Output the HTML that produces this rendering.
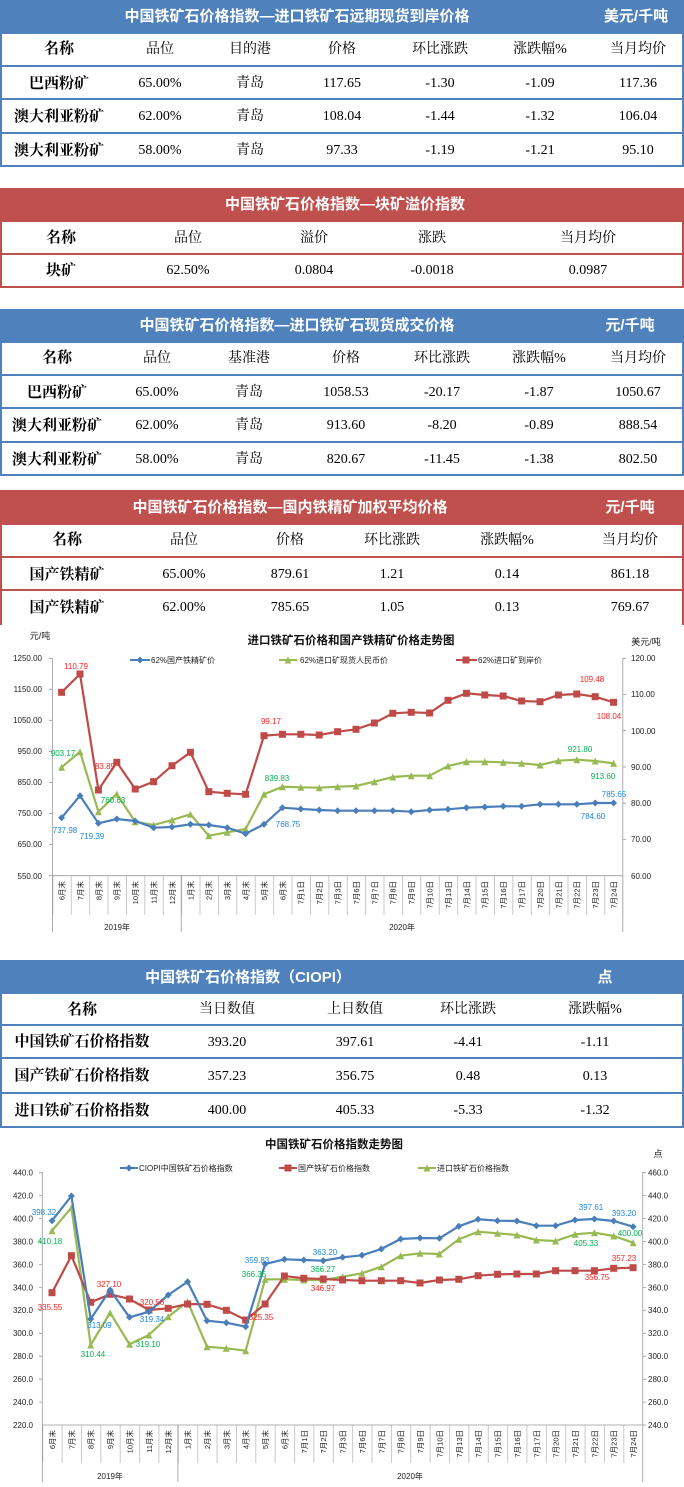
<!DOCTYPE html>
<html><head><meta charset="utf-8">
<style>
body{margin:0;width:684px;height:1487px;position:relative;background:#fff;overflow:hidden;font-family:"Liberation Serif","Noto Serif CJK SC",serif;}
.t{position:absolute;left:0;width:680px;}
.b{border:2px solid #4f81bd;}
.r{border:2px solid #c0504d;}
.h{position:absolute;left:0;right:0;color:#fff;font-family:"Liberation Sans","Noto Sans CJK SC",sans-serif;font-weight:bold;font-size:15px;}
.b .h{background:#4f81bd;}
.r .h{background:#c0504d;}
.row{position:absolute;left:0;right:0;font-size:14px;color:#000;}
.b .row{border-top:2px solid #4f81bd;}
.r .row{border-top:2px solid #c0504d;}
i{position:absolute;width:160px;margin-left:-80px;text-align:center;font-style:normal;top:0;}
i.n{font-weight:bold;font-size:15px;}
svg{position:absolute;left:0;}
</style></head><body>

<!-- Table 1 -->
<div class="t b" style="top:0;height:165px;border-top:none;">
 <div class="h" style="top:0;height:34px;line-height:34px;"><i style="left:295px;width:400px;margin-left:-200px">中国铁矿石价格指数—进口铁矿石远期现货到岸价格</i><i style="left:634px">美元/千吨</i></div>
 <div class="row" style="top:34px;height:31px;line-height:31px;border-top:none"><i class="n" style="left:57px">名称</i><i style="left:158px">品位</i><i style="left:248px">目的港</i><i style="left:340px">价格</i><i style="left:438px">环比涨跌</i><i style="left:538px">涨跌幅%</i><i style="left:636px">当月均价</i></div>
 <div class="row" style="top:65px;height:31px;line-height:34px;"><i class="n" style="left:57px">巴西粉矿</i><i style="left:158px">65.00%</i><i style="left:248px">青岛</i><i style="left:340px">117.65</i><i style="left:438px">-1.30</i><i style="left:538px">-1.09</i><i style="left:636px">117.36</i></div>
 <div class="row" style="top:98px;height:31px;line-height:34px;"><i class="n" style="left:57px">澳大利亚粉矿</i><i style="left:158px">62.00%</i><i style="left:248px">青岛</i><i style="left:340px">108.04</i><i style="left:438px">-1.44</i><i style="left:538px">-1.32</i><i style="left:636px">106.04</i></div>
 <div class="row" style="top:132px;height:31px;line-height:34px;"><i class="n" style="left:57px">澳大利亚粉矿</i><i style="left:158px">58.00%</i><i style="left:248px">青岛</i><i style="left:340px">97.33</i><i style="left:438px">-1.19</i><i style="left:538px">-1.21</i><i style="left:636px">95.10</i></div>
</div>

<!-- Table 2 -->
<div class="t r" style="top:188px;height:98px;border-top:none;">
 <div class="h" style="top:0;height:34px;line-height:34px;"><i style="left:343px;width:400px;margin-left:-200px">中国铁矿石价格指数—块矿溢价指数</i></div>
 <div class="row" style="top:34px;height:31px;line-height:33px;border-top:none"><i class="n" style="left:59px">名称</i><i style="left:186px">品位</i><i style="left:312px">溢价</i><i style="left:430px">涨跌</i><i style="left:586px">当月均价</i></div>
 <div class="row" style="top:65px;height:31px;line-height:32px;"><i class="n" style="left:59px">块矿</i><i style="left:186px">62.50%</i><i style="left:312px">0.0804</i><i style="left:430px">-0.0018</i><i style="left:586px">0.0987</i></div>
</div>

<!-- Table 3 -->
<div class="t b" style="top:309px;height:165px;border-top:none;">
 <div class="h" style="top:0;height:34px;line-height:34px;"><i style="left:295px;width:400px;margin-left:-200px">中国铁矿石价格指数—进口铁矿石现货成交价格</i><i style="left:628px">元/千吨</i></div>
 <div class="row" style="top:34px;height:31px;line-height:31px;border-top:none"><i class="n" style="left:55px">名称</i><i style="left:155px">品位</i><i style="left:247px">基准港</i><i style="left:344px">价格</i><i style="left:440px">环比涨跌</i><i style="left:537px">涨跌幅%</i><i style="left:636px">当月均价</i></div>
 <div class="row" style="top:65px;height:31px;line-height:34px;"><i class="n" style="left:55px">巴西粉矿</i><i style="left:155px">65.00%</i><i style="left:247px">青岛</i><i style="left:344px">1058.53</i><i style="left:440px">-20.17</i><i style="left:537px">-1.87</i><i style="left:636px">1050.67</i></div>
 <div class="row" style="top:98px;height:31px;line-height:34px;"><i class="n" style="left:55px">澳大利亚粉矿</i><i style="left:155px">62.00%</i><i style="left:247px">青岛</i><i style="left:344px">913.60</i><i style="left:440px">-8.20</i><i style="left:537px">-0.89</i><i style="left:636px">888.54</i></div>
 <div class="row" style="top:132px;height:31px;line-height:34px;"><i class="n" style="left:55px">澳大利亚粉矿</i><i style="left:155px">58.00%</i><i style="left:247px">青岛</i><i style="left:344px">820.67</i><i style="left:440px">-11.45</i><i style="left:537px">-1.38</i><i style="left:636px">802.50</i></div>
</div>

<!-- Table 4 -->
<div class="t r" style="top:490px;height:140px;border-top:none;">
 <div class="h" style="top:0;height:35px;line-height:35px;"><i style="left:288px;width:400px;margin-left:-200px">中国铁矿石价格指数—国内铁精矿加权平均价格</i><i style="left:628px">元/千吨</i></div>
 <div class="row" style="top:35px;height:31px;line-height:31px;border-top:none"><i class="n" style="left:65px">名称</i><i style="left:182px">品位</i><i style="left:288px">价格</i><i style="left:390px">环比涨跌</i><i style="left:505px">涨跌幅%</i><i style="left:628px">当月均价</i></div>
 <div class="row" style="top:66px;height:31px;line-height:34px;"><i class="n" style="left:65px">国产铁精矿</i><i style="left:182px">65.00%</i><i style="left:288px">879.61</i><i style="left:390px">1.21</i><i style="left:505px">0.14</i><i style="left:628px">861.18</i></div>
 <div class="row" style="top:99px;height:40px;line-height:34px;"><i class="n" style="left:65px">国产铁精矿</i><i style="left:182px">62.00%</i><i style="left:288px">785.65</i><i style="left:390px">1.05</i><i style="left:505px">0.13</i><i style="left:628px">769.67</i></div>
</div>

<!-- Chart 1 -->
<svg width="684" height="330" viewBox="0 625 684 330" style="top:625px;background:#fff;font-family:'Liberation Sans','Noto Sans CJK SC',sans-serif;">
<defs>
 <pattern id="p1" x="52.4" y="0" width="18.4" height="10" patternUnits="userSpaceOnUse"><rect x="0" y="0" width="0.8" height="10" fill="#bbb"/></pattern>
 <pattern id="p2" x="42.3" y="0" width="19.37" height="10" patternUnits="userSpaceOnUse"><rect x="0" y="0" width="0.8" height="10" fill="#bbb"/></pattern>
 <marker id="mb" markerWidth="8" markerHeight="8" refX="4" refY="4" markerUnits="userSpaceOnUse"><path d="M4 0.5L7.5 4L4 7.5L0.5 4Z" fill="#4a7ebb"/></marker>
 <marker id="mr" markerWidth="8" markerHeight="8" refX="4" refY="4" markerUnits="userSpaceOnUse"><rect x="0.5" y="0.5" width="7" height="7" fill="#be4b48"/></marker>
 <marker id="mg" markerWidth="8" markerHeight="8" refX="4" refY="4" markerUnits="userSpaceOnUse"><path d="M4 0.5L7.5 7.5L0.5 7.5Z" fill="#98b954"/></marker>
</defs>
<rect x="52.4" y="875.7" width="570.8" height="39.3" fill="url(#p1)"/>
<g stroke="#999" stroke-width="0.8" fill="none">
 <path d="M52.4 658V932M622.8 658V932M181.2 875V932M52.4 875.7H622.8"/>
 <path d="M49 658.3H52.4M49 689.3H52.4M49 720.3H52.4M49 751.4H52.4M49 782.4H52.4M49 813.5H52.4M49 844.6H52.4M49 875.7H52.4"/>
 <path d="M622.8 658.3H626M622.8 694.5H626M622.8 730.7H626M622.8 767H626M622.8 803.2H626M622.8 839.4H626"/>
</g>
<g font-size="8" fill="#222" text-anchor="end">
 <text x="42" y="661">1250.00</text><text x="42" y="692">1150.00</text><text x="42" y="723">1050.00</text><text x="42" y="754">950.00</text><text x="42" y="785">850.00</text><text x="42" y="816">750.00</text><text x="42" y="847">650.00</text><text x="42" y="879">550.00</text>
</g>
<g font-size="8" fill="#222">
 <text x="631" y="661">120.00</text><text x="631" y="697">110.00</text><text x="631" y="734">100.00</text><text x="631" y="770">90.00</text><text x="631" y="806">80.00</text><text x="631" y="842">70.00</text><text x="631" y="879">60.00</text>
</g>
<text x="351" y="644" font-size="11.5" font-weight="bold" text-anchor="middle" fill="#111">进口铁矿石价格和国产铁精矿价格走势图</text>
<text x="40" y="639" font-size="9" text-anchor="middle" fill="#222">元/吨</text>
<text x="646" y="645" font-size="9" text-anchor="middle" fill="#222">美元/吨</text>
<g font-size="8" fill="#222">
 <path d="M130 660H150" stroke="#4a7ebb" stroke-width="2" marker-mid="url(#mb)"/><path d="M130 660H140H150" stroke="#4a7ebb" stroke-width="2" marker-mid="url(#mb)"/><text x="151" y="663">62%国产铁精矿价</text>
 <path d="M279 660H288H297" stroke="#98b954" stroke-width="2" marker-mid="url(#mg)"/><text x="300" y="663">62%进口矿现货人民币价</text>
 <path d="M456 660H466H477" stroke="#be4b48" stroke-width="2" marker-mid="url(#mr)"/><text x="478" y="663">62%进口矿到岸价</text>
</g>
<g fill="none" stroke-width="2.2">
<polyline stroke="#be4b48" marker-start="url(#mr)" marker-mid="url(#mr)" marker-end="url(#mr)" points="61.6,692.3 80,674 98.4,790 116.8,762.3 135.2,789 153.6,781.7 172,765.7 190.4,752.3 208.8,791.7 227.2,793.3 245.6,794.3 264,735.7 282.4,734.3 300.8,734.3 319.2,735 337.6,731.7 356,729.3 374.4,723 392.8,713.3 411.2,712.3 429.6,713 448,700.3 466.4,693.3 484.8,695 503.2,696 521.6,701 540,701.7 558.4,695 576.8,694 595.2,696.7 613.6,702.3"/>
<polyline stroke="#98b954" marker-start="url(#mg)" marker-mid="url(#mg)" marker-end="url(#mg)" points="61.6,767.3 80,751.7 98.4,811.7 116.8,794 135.2,821.7 153.6,825 172,820 190.4,814.3 208.8,835.7 227.2,832.3 245.6,829 264,794.3 282.4,786.7 300.8,787.3 319.2,787.7 337.6,786.7 356,786 374.4,781.7 392.8,777 411.2,775.7 429.6,775.7 448,766 466.4,761.7 484.8,761.7 503.2,762.3 521.6,763.3 540,765 558.4,760.7 576.8,759.7 595.2,761 613.6,763.3"/>
<polyline stroke="#4a7ebb" marker-start="url(#mb)" marker-mid="url(#mb)" marker-end="url(#mb)" points="61.6,817.7 80,795.7 98.4,823.3 116.8,819 135.2,821 153.6,827.7 172,827 190.4,824.3 208.8,825 227.2,827.7 245.6,833.7 264,824.3 282.4,807.7 300.8,809 319.2,810 337.6,810.7 356,810.7 374.4,810.7 392.8,810.7 411.2,811.7 429.6,810 448,809.3 466.4,807.7 484.8,807 503.2,806.3 521.6,806.3 540,804.3 558.4,804.3 576.8,804.3 595.2,803 613.6,803"/>
</g>
<g font-size="8" text-anchor="middle">
 <g fill="#ff2020"><text x="76" y="669">110.79</text><text x="105" y="769">83.89</text><text x="271" y="724">99.17</text><text x="592" y="682">109.48</text><text x="609" y="719">108.04</text></g>
 <g fill="#00b050"><text x="63" y="756">903.17</text><text x="113" y="803">760.63</text><text x="277" y="781">839.83</text><text x="580" y="752">921.80</text><text x="603" y="779">913.60</text></g>
 <g fill="#1f86e0"><text x="65" y="833">737.98</text><text x="92" y="839">719.39</text><text x="288" y="827">768.75</text><text x="593" y="819">784.60</text><text x="614" y="797">785.65</text></g>
</g>
<g font-size="7.5" fill="#222" text-anchor="end">
<text transform="translate(64.5,881) rotate(-90)">6月末</text><text transform="translate(82.9,881) rotate(-90)">7月末</text><text transform="translate(101.3,881) rotate(-90)">8月末</text><text transform="translate(119.7,881) rotate(-90)">9月末</text><text transform="translate(138.1,881) rotate(-90)">10月末</text><text transform="translate(156.5,881) rotate(-90)">11月末</text><text transform="translate(174.9,881) rotate(-90)">12月末</text><text transform="translate(193.3,881) rotate(-90)">1月末</text><text transform="translate(211.7,881) rotate(-90)">2月末</text><text transform="translate(230.1,881) rotate(-90)">3月末</text><text transform="translate(248.5,881) rotate(-90)">4月末</text><text transform="translate(266.9,881) rotate(-90)">5月末</text><text transform="translate(285.3,881) rotate(-90)">6月末</text><text transform="translate(303.7,881) rotate(-90)">7月1日</text><text transform="translate(322.1,881) rotate(-90)">7月2日</text><text transform="translate(340.5,881) rotate(-90)">7月3日</text><text transform="translate(358.9,881) rotate(-90)">7月6日</text><text transform="translate(377.3,881) rotate(-90)">7月7日</text><text transform="translate(395.7,881) rotate(-90)">7月8日</text><text transform="translate(414.1,881) rotate(-90)">7月9日</text><text transform="translate(432.5,881) rotate(-90)">7月10日</text><text transform="translate(450.9,881) rotate(-90)">7月13日</text><text transform="translate(469.3,881) rotate(-90)">7月14日</text><text transform="translate(487.7,881) rotate(-90)">7月15日</text><text transform="translate(506.1,881) rotate(-90)">7月16日</text><text transform="translate(524.5,881) rotate(-90)">7月17日</text><text transform="translate(542.9,881) rotate(-90)">7月20日</text><text transform="translate(561.3,881) rotate(-90)">7月21日</text><text transform="translate(579.7,881) rotate(-90)">7月22日</text><text transform="translate(598.1,881) rotate(-90)">7月23日</text><text transform="translate(616.5,881) rotate(-90)">7月24日</text>
</g>
<text x="117" y="930" font-size="8" text-anchor="middle" fill="#222">2019年</text>
<text x="402" y="930" font-size="8" text-anchor="middle" fill="#222">2020年</text>
</svg>

<!-- CIOPI table -->
<div class="t b" style="top:960px;height:166px;border-top:none;">
 <div class="h" style="top:0;height:34px;line-height:36px;"><i style="left:246px;width:300px;margin-left:-150px">中国铁矿石价格指数（CIOPI）</i><i style="left:603px">点</i></div>
 <div class="row" style="top:34px;height:30px;line-height:32px;border-top:none"><i class="n" style="left:80px">名称</i><i style="left:225px">当日数值</i><i style="left:353px">上日数值</i><i style="left:466px">环比涨跌</i><i style="left:593px">涨跌幅%</i></div>
 <div class="row" style="top:64px;height:31px;line-height:33px;"><i class="n" style="left:80px">中国铁矿石价格指数</i><i style="left:225px">393.20</i><i style="left:353px">397.61</i><i style="left:466px">-4.41</i><i style="left:593px">-1.11</i></div>
 <div class="row" style="top:97px;height:33px;line-height:35px;"><i class="n" style="left:80px">国产铁矿石价格指数</i><i style="left:225px">357.23</i><i style="left:353px">356.75</i><i style="left:466px">0.48</i><i style="left:593px">0.13</i></div>
 <div class="row" style="top:132px;height:32px;line-height:34px;"><i class="n" style="left:80px">进口铁矿石价格指数</i><i style="left:225px">400.00</i><i style="left:353px">405.33</i><i style="left:466px">-5.33</i><i style="left:593px">-1.32</i></div>
</div>

<!-- Chart 2 -->
<svg width="684" height="357" viewBox="0 1130 684 357" style="top:1130px;background:#fff;font-family:'Liberation Sans','Noto Sans CJK SC',sans-serif;">
<defs>
 <pattern id="q2" x="42.3" y="0" width="19.37" height="10" patternUnits="userSpaceOnUse"><rect x="0" y="0" width="0.8" height="10" fill="#bbb"/></pattern>
 <marker id="nb" markerWidth="8" markerHeight="8" refX="4" refY="4" markerUnits="userSpaceOnUse"><path d="M4 0.5L7.5 4L4 7.5L0.5 4Z" fill="#4a7ebb"/></marker>
 <marker id="nr" markerWidth="8" markerHeight="8" refX="4" refY="4" markerUnits="userSpaceOnUse"><rect x="0.5" y="0.5" width="7" height="7" fill="#be4b48"/></marker>
 <marker id="ng" markerWidth="8" markerHeight="8" refX="4" refY="4" markerUnits="userSpaceOnUse"><path d="M4 0.5L7.5 7.5L0.5 7.5Z" fill="#98b954"/></marker>
</defs>
<rect x="42.3" y="1425" width="600.4" height="38" fill="url(#q2)"/>
<g stroke="#999" stroke-width="0.8" fill="none">
 <path d="M42.3 1172V1482M642.7 1172V1482M177.9 1425V1482M42.3 1425H642.7"/>
 <path d="M39 1172.7H42.3M39 1195.6H42.3M39 1218.6H42.3M39 1241.5H42.3M39 1264.5H42.3M39 1287.4H42.3M39 1310.3H42.3M39 1333.3H42.3M39 1356.2H42.3M39 1379.2H42.3M39 1402.1H42.3"/>
 <path d="M642.7 1172.7H646M642.7 1195.6H646M642.7 1218.6H646M642.7 1241.5H646M642.7 1264.5H646M642.7 1287.4H646M642.7 1310.3H646M642.7 1333.3H646M642.7 1356.2H646M642.7 1379.2H646M642.7 1402.1H646M642.7 1425H646"/>
</g>
<g font-size="8" fill="#222" text-anchor="end">
 <text x="33" y="1175.5">440.0</text><text x="33" y="1198.5">420.0</text><text x="33" y="1221.5">400.0</text><text x="33" y="1244.5">380.0</text><text x="33" y="1267.5">360.0</text><text x="33" y="1290.5">340.0</text><text x="33" y="1313">320.0</text><text x="33" y="1336">300.0</text><text x="33" y="1359">280.0</text><text x="33" y="1382">260.0</text><text x="33" y="1405">240.0</text><text x="33" y="1428">220.0</text>
</g>
<g font-size="8" fill="#222">
 <text x="648" y="1175.5">460.0</text><text x="648" y="1198.5">440.0</text><text x="648" y="1221.5">420.0</text><text x="648" y="1244.5">400.0</text><text x="648" y="1267.5">380.0</text><text x="648" y="1290.5">360.0</text><text x="648" y="1313">340.0</text><text x="648" y="1336">320.0</text><text x="648" y="1359">300.0</text><text x="648" y="1382">280.0</text><text x="648" y="1405">260.0</text><text x="648" y="1428">240.0</text>
</g>
<text x="334" y="1148" font-size="11.5" font-weight="bold" text-anchor="middle" fill="#111">中国铁矿石价格指数走势图</text>
<text x="658" y="1157" font-size="9" text-anchor="middle" fill="#222">点</text>
<g font-size="8" fill="#222">
 <path d="M120 1168H129H138" stroke="#4a7ebb" stroke-width="2" marker-mid="url(#nb)"/><text x="139" y="1171">CIOPI中国铁矿石价格指数</text>
 <path d="M279 1168H288H297" stroke="#be4b48" stroke-width="2" marker-mid="url(#nr)"/><text x="298" y="1171">国产铁矿石价格指数</text>
 <path d="M418 1168H427H436" stroke="#98b954" stroke-width="2" marker-mid="url(#ng)"/><text x="437" y="1171">进口铁矿石价格指数</text>
</g>
<g fill="none" stroke-width="2.2">
<polyline stroke="#98b954" marker-start="url(#ng)" marker-mid="url(#ng)" marker-end="url(#ng)" points="52,1230.7 71.4,1207.7 90.7,1345 110.1,1312.7 129.5,1344.3 148.9,1335 168.2,1316.7 187.6,1301.7 207,1346.7 226.3,1348.3 245.7,1350.7 265.1,1279.3 284.4,1279.3 303.8,1280 323.2,1280 342.6,1276.7 361.9,1273.3 381.3,1266.7 400.7,1255.7 420,1253.3 439.4,1254 458.8,1239.3 478.1,1231.7 497.5,1233.3 516.9,1235 536.3,1240 555.6,1241 575,1234.3 594.4,1232.7 613.7,1236 633.1,1242.7"/>
<polyline stroke="#be4b48" marker-start="url(#nr)" marker-mid="url(#nr)" marker-end="url(#nr)" points="52,1292.7 71.4,1255.7 90.7,1302.3 110.1,1294.3 129.5,1299 148.9,1310 168.2,1308.3 187.6,1304 207,1304.3 226.3,1310.3 245.7,1320 265.1,1304 284.4,1276 303.8,1278.3 323.2,1279 342.6,1280 361.9,1280.7 381.3,1280.7 400.7,1280.7 420,1283 439.4,1280 458.8,1279.3 478.1,1275.7 497.5,1274.3 516.9,1274 536.3,1274 555.6,1270.7 575,1270.7 594.4,1270.7 613.7,1268.3 633.1,1267.7"/>
<polyline stroke="#4a7ebb" marker-start="url(#nb)" marker-mid="url(#nb)" marker-end="url(#nb)" points="52,1220.7 71.4,1196 90.7,1319 110.1,1290 129.5,1317.3 148.9,1311.7 168.2,1295 187.6,1281.7 207,1320.7 226.3,1322.7 245.7,1326.7 265.1,1264 284.4,1259.3 303.8,1260 323.2,1260.7 342.6,1257.3 361.9,1255.3 381.3,1249 400.7,1239 420,1238 439.4,1238.3 458.8,1226.3 478.1,1219.3 497.5,1220.7 516.9,1221 536.3,1225.7 555.6,1225.7 575,1220 594.4,1219 613.7,1221 633.1,1226.7"/>
</g>
<g font-size="8" text-anchor="middle">
 <g fill="#1f86e0"><text x="44" y="1215">398.32</text><text x="99.5" y="1328">313.09</text><text x="152" y="1322">319.34</text><text x="257" y="1263">359.83</text><text x="325" y="1255">363.20</text><text x="591" y="1210">397.61</text><text x="624" y="1216">393.20</text></g>
 <g fill="#ff2020"><text x="109" y="1287">327.10</text><text x="152" y="1305">320.56</text><text x="50" y="1310">335.55</text><text x="261" y="1320">325.35</text><text x="323" y="1291">346.97</text><text x="597" y="1280">356.75</text><text x="624" y="1261">357.23</text></g>
 <g fill="#00b050"><text x="50" y="1244">410.18</text><text x="93" y="1357">310.44</text><text x="148" y="1347">319.10</text><text x="254" y="1277">366.35</text><text x="323" y="1272">366.27</text><text x="586" y="1246">405.33</text><text x="630" y="1236">400.00</text></g>
</g>
<g font-size="7.5" fill="#222" text-anchor="end">
<text transform="translate(55,1430) rotate(-90)">6月末</text><text transform="translate(74.4,1430) rotate(-90)">7月末</text><text transform="translate(93.7,1430) rotate(-90)">8月末</text><text transform="translate(113.1,1430) rotate(-90)">9月末</text><text transform="translate(132.5,1430) rotate(-90)">10月末</text><text transform="translate(151.9,1430) rotate(-90)">11月末</text><text transform="translate(171.2,1430) rotate(-90)">12月末</text><text transform="translate(190.6,1430) rotate(-90)">1月末</text><text transform="translate(210,1430) rotate(-90)">2月末</text><text transform="translate(229.3,1430) rotate(-90)">3月末</text><text transform="translate(248.7,1430) rotate(-90)">4月末</text><text transform="translate(268.1,1430) rotate(-90)">5月末</text><text transform="translate(287.4,1430) rotate(-90)">6月末</text><text transform="translate(306.8,1430) rotate(-90)">7月1日</text><text transform="translate(326.2,1430) rotate(-90)">7月2日</text><text transform="translate(345.6,1430) rotate(-90)">7月3日</text><text transform="translate(364.9,1430) rotate(-90)">7月6日</text><text transform="translate(384.3,1430) rotate(-90)">7月7日</text><text transform="translate(403.7,1430) rotate(-90)">7月8日</text><text transform="translate(423,1430) rotate(-90)">7月9日</text><text transform="translate(442.4,1430) rotate(-90)">7月10日</text><text transform="translate(461.8,1430) rotate(-90)">7月13日</text><text transform="translate(481.1,1430) rotate(-90)">7月14日</text><text transform="translate(500.5,1430) rotate(-90)">7月15日</text><text transform="translate(519.9,1430) rotate(-90)">7月16日</text><text transform="translate(539.3,1430) rotate(-90)">7月17日</text><text transform="translate(558.6,1430) rotate(-90)">7月20日</text><text transform="translate(578,1430) rotate(-90)">7月21日</text><text transform="translate(597.4,1430) rotate(-90)">7月22日</text><text transform="translate(616.7,1430) rotate(-90)">7月23日</text><text transform="translate(636.1,1430) rotate(-90)">7月24日</text>
</g>
<text x="110" y="1479" font-size="8" text-anchor="middle" fill="#222">2019年</text>
<text x="410" y="1479" font-size="8" text-anchor="middle" fill="#222">2020年</text>
</svg>
</body></html>
